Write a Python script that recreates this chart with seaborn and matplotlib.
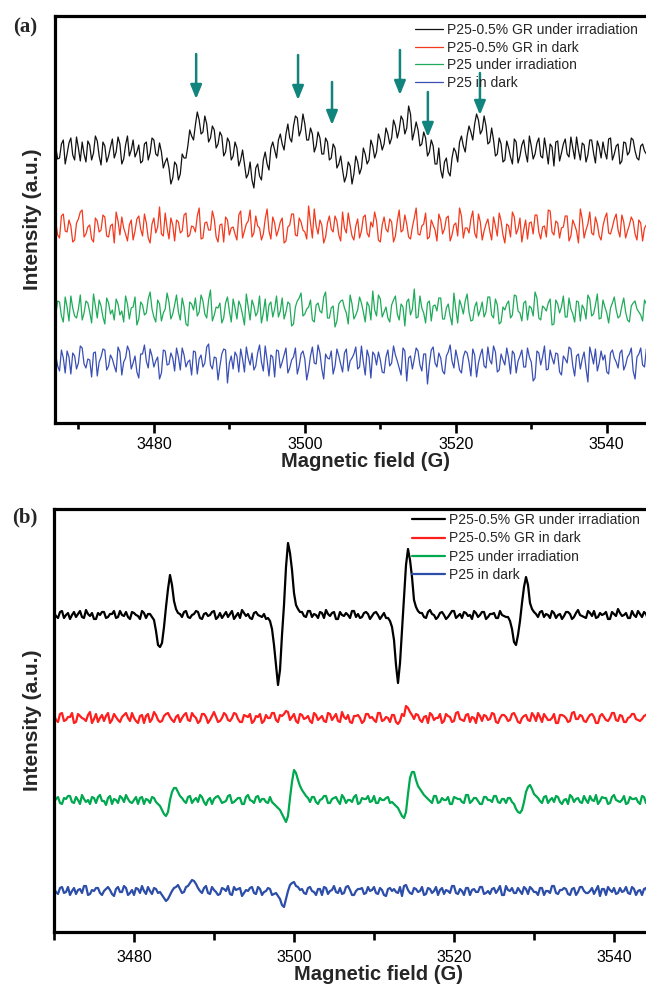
import numpy as np
import pandas as pd
import matplotlib
matplotlib.use("Agg")
import matplotlib.pyplot as plt
import seaborn as sns

# ---------------- data ----------------
series_names = ["P25-0.5% GR under irradiation", "P25-0.5% GR in dark",
                "P25 under irradiation", "P25 in dark"]

# panel (a): readings on a 0.5 G grid starting at 3467.0 G, and the
# in-between readings starting at 3467.25 G (relative intensity, a.u.)
field_start_a, field_step_a, field_mid_a = 3467.0, 0.5, 3467.25
black_a = [3, -8, 10, -4, 12, -10, 2, 8, -12, 5, -3, 9, -15, 4, -6, 11, -2, 6, -9, 14,
           0, -7, 5, -11, 8, -3, 10, -6, -2, -12, -18, -28, -15, -24, -8, 4, 14, 25, 30, 18,
           26, 12, 20, 6, 14, -2, 8, -6, 2, -10, -14, -24, -30, -18, -26, -10, -14, 2, 0, 10,
           6, 16, 12, 24, 32, 20, 26, 10, 16, 4, 12, -4, 8, -8, 2, -14, -20, -26, -16, -24,
           -12, -18, -4, -10, 4, -2, 10, 6, 16, 12, 24, 20, 30, 22, 36, 18, 20, 6, 12, -2,
           4, -14, -20, -12, -22, -8, -2, 8, 4, 14, 18, 26, 30, 20, 24, 8, 10, -4, 6, -10,
           2, -14, 8, -6, 10, -12, 4, -4, 12, -8, 0, 6, -16, 9, -3, 11, -7, 2, 13, -10,
           5, -5, 10, -13, 3, 8, -9, 12, -4, 6, -11, 7, -2, 10, -8, 4, -1, 5, -6]
black_a_mid = [-9, 6, -14, 7, -5, 13, -11, -4, 9, -10, 14, -6, 8, -12, 3, -8, 13, -14, 5, -6,
               10, -2, -13, 6, -10, 12, -4, 7, -18, -8, -34, -12, -30, -4, -8, 20, 10, 38, 16, 34,
               8, 24, 2, 18, -6, 12, -10, 8, -16, 0, -28, -12, -38, -14, -30, -2, -20, 8, -8, 16,
               0, 26, 8, 34, 14, 36, 10, 22, -2, 18, -4, 12, -10, 6, -18, -6, -32, -12, -34, -6,
               -24, 2, -14, 10, -8, 16, 0, 22, 6, 30, 12, 34, 16, 44, 10, 28, 4, 18, -6, 10,
               -14, 2, -28, -8, -26, 2, -12, 14, -2, 24, 10, 36, 16, 34, 6, 22, -6, 12, -12, 9,
               -7, 11, -13, 5, -3, 14, -9, 7, -6, 12, -14, 3, 8, -11, 6, -4, 13, -9, 0, 7,
               -12, 10, -3, 9, -8, -2, 11, -10, 4, -14, 8, -5, 12, -1, -10, 6, -4, 9]
red_a = [6, -10, 14, -4, 2, -12, 9, 18, -6, 3, -14, 7, -2, 11, -9, 4, 16, -7, 0, -13,
         8, -3, 12, -8, 5, -15, 10, 1, -6, 15, -11, 3, 8, -5, 13, -9, 2, -4, 20, -10,
         6, -2, 9, -14, 4, 11, -7, 1, -12, 17, -3, 7, -9, 12, 0, -6, 19, -11, 5, -2,
         10, -13, 3, 14, -8, 6, -4, 22, -10, 2, 8, -15, 5, -1, 12, -7, 16, -5, 3, -12,
         9, -3, 13, -9, 1, 7, -14, 11, -4, 6, -8, 18, -2, 4, -11, 10, -6, 2, 15, -9,
         3, -13, 8, -1, 12, -7, 5, 20, -10, 0, 9, -5, 14, -12, 4, -3, 11, -8, 7, -15,
         2, 16, -6, 10, -2, -11, 6, 13, -4, 1, -9, 17, -7, 5, 0, 12, -13, 8, -3, 19,
         -10, 4, -5, 11, -8, 2, 15, -6, 9, -2, 13, -10, 3, 7, -12, 5, 0]
red_a_mid = [-7, 12, -3, 8, -14, 5, 16, -9, 1, -11, 10, -4, 13, -8, 2, -15, 7, 11, -6, 3,
             -12, 9, -1, 14, -10, 4, -5, 21, -8, 0, 10, -13, 6, -3, 15, -7, 1, 12, -11, 5,
             -2, 17, -9, 3, -14, 8, 0, -6, 13, -10, 4, 18, -5, 2, -12, 9, -3, 11, -8, 6,
             -15, 1, 14, -7, 10, -2, -11, 5, 19, -6, 3, -9, 12, -4, 7, -13, 0, 15, -8, 2,
             -10, 11, -5, 6, 16, -12, 3, -1, 9, -14, 7, -4, 13, -9, 1, 20, -7, 4, -11, 8,
             -2, 14, -6, 10, -13, 3, -8, 12, 0, -5, 17, -10, 6, -3, 9, -12, 2, 15, -7, 4,
             -9, 11, -1, -14, 8, 5, -6, 13, -11, 2, 18, -4, 7, -10, 1, 12, -8, 3, -15, 9,
             -2, 16, -7, 4, -12, 10, -5, 1, 14, -9, 6, -3, 11, -6, 8, -13, 3, 12, -4, 0]
green_a = [-4, 8, -12, 3, 14, -6, 1, -10, 9, -2, 16, -8, 4, -14, 7, 0, 11, -5, -12, 6,
           2, 13, -9, 5, -3, 18, -7, 10, -11, 1, 8, -4, 15, -10, 3, -16, 6, 12, -2, 9,
           -8, 20, -5, 2, -13, 7, -1, 11, -9, 4, -15, 3, 10, -6, 14, -3, -11, 8, 1, -7,
           12, -2, 6, -14, 9, 17, -4, 3, -10, 5, -1, 13, -8, 2, -17, 6, 10, -3, 15, -9,
           0, 7, -12, 4, 19, -6, 11, -2, -8, 5, 14, -10, 3, 8, -5, 21, -7, 2, -13, 9,
           4, -1, 12, -9, 6, -15, 1, 10, -4, 16, -11, 3, -6, 8, -2, 13, -8, 5, -12, 0,
           9, -5, 14, -3, 7, -10, 2, 18, -8, 4, -1, 11, -14, 6, 3, -7, 12, -4, 9, -11,
           1, 15, -6, 5, -9, 10, -3, 2, 13, -8, 4, -2, -12, 7, 1, -5, 10, -3, 6, -9]
green_a_mid = [9, -6, 13, -11, 2, -8, 15, -3, 7, -13, 4, 10, -7, 12, -4, -10, 6, -1, 14, -9,
               3, -15, 8, -5, 11, 1, -12, 6, -3, 17, -9, 5, -2, 12, -14, 8, 0, -6, 15, -4,
               10, -11, 3, 7, -8, 13, -12, 2, 9, -5, 16, -10, 4, -2, -13, 11, 5, -7, 14, -1,
               -9, 8, -16, 3, 12, -6, 1, 10, -12, 7, -3, 18, -8, 4, -11, 9, 2, -14, 6, -5,
               13, -2, 8, -10, 0, 15, -7, 3, -12, 10, -4, 6, -16, 11, 1, -8, 14, -3, 7, -11,
               5, 12, -9, 2, -6, 17, -13, 4, 9, -2, -10, 8, 0, -7, 13, -5, 11, -14, 3, 6,
               -8, 15, -1, -11, 9, 4, -6, 12, -10, 2, 7, -15, 10, -3, 14, -7, 1, -12, 8, 5,
               -9, 11, -4, 16, -8, 3, -13, 7, 0, -6, 12, -10, 4, 9, -2, -11, 6, -5, 13, -3]
blue_a = [5, -11, 2, 9, -14, 4, -3, 12, -8, 0, 7, -16, 3, 10, -6, 1, -12, 8, -2, 14,
          -9, 4, -18, 6, -1, 11, -7, 3, -13, 9, -4, 2, 12, -10, 5, -2, -15, 8, 1, -7,
          13, -5, 3, -20, 6, 10, -3, -9, 4, 11, -12, 2, 7, -6, 15, -11, 0, 5, -17, 9,
          -2, 12, -8, 3, -14, 6, 1, -10, 13, -4, 7, -19, 2, 9, -6, 4, -12, 11, -1, 6,
          -9, 14, -15, 3, 8, -5, 0, -13, 10, -3, 5, -8, 12, -21, 4, 1, 9, -11, 6, -4,
          13, -7, 2, -14, 8, -1, 10, -10, 3, 7, -16, 5, -3, 11, -8, 0, 14, -12, 6, -5,
          2, 9, -13, 4, -7, 12, -2, -18, 7, 3, -10, 10, -4, 6, -15, 1, 13, -6, 4, -9,
          8, -22, 5, 11, -3, 0, -12, 7, 2, -8, 10, -5, 6, -11, 3, 12, -7, 1, -14, 9]
blue_a_mid = [-6, 10, -13, 3, 7, -9, 14, -4, 1, -17, 8, -2, 11, -10, 5, -6, 13, -15, 2, 9,
              -3, -12, 6, 15, -8, 4, -1, -19, 10, -5, 7, -11, 3, 12, -7, 0, 9, -14, 5, -3,
              16, -9, 2, -6, 11, -23, 4, 8, -12, 1, 13, -5, -10, 7, -2, 14, -16, 3, 10, -8,
              5, -13, 0, 12, -6, 9, -20, 4, -3, 15, -9, 6, 1, -14, 11, -4, 7, -11, 2, 13,
              -7, -2, 10, -18, 5, 8, -12, 3, -6, 14, -1, -15, 9, 2, -9, 12, -5, 6, -24, 10,
              -3, 7, -11, 4, 15, -8, 1, -13, 9, -2, 11, -17, 5, -6, 13, -4, 8, -10, 0, 12,
              -14, 6, -1, 10, -7, 3, -21, 9, -5, 14, -9, 2, 7, -12, 4, -3, 11, -16, 6, 1,
              -8, 13, -4, -11, 9, 5, -14, 10, -2, 7, -10, 3, 12, -19, 6, -5, 11, -7, 2, 8]
offsets_a = [273, 195, 113, 63]

# panel (b): 0.5 G grid starting at 3470.0 G, in-between readings from 3470.25 G
field_start_b, field_step_b, field_mid_b = 3470.0, 0.5, 3470.25
black_b = [2, -3, 4, 0, -4, 3, 1, -2, 5, -1, -4, 2, 3, -3, 1, 4, -2, 0, 3, -4, 2, -1, 4, -3, 1,
           -5, -30, -28, 8, 40, 14, 2,
           -2, 4, -3, 1, 3, -4, 2, 0, 4, -2, -3, 3, 1, -4, 2, 5, -1, -3, 2, 0, -2, -4,
           -6, -30, -70, -20, 48, 62, 22, 6,
           3, -2, 4, 1, -3, 2, 5, -1, 3, -4, 0, 2, -3, 4, 1, -2, 3, -4, 2, 0, -1, -3,
           -6, -25, -68, -15, 50, 55, 15, 4,
           2, -3, 5, 0, -2, 3, -4, 1, 4, -1, -3, 2, 0, 4, -2, 3, -4, 1, 2, -3, 0, -2,
           -6, -27, -20, 12, 38, 12, 3,
           -2, 4, 1, -3, 2, 0, -4, 3, 1, -2, 5, -1, -3, 2, 4, -2, 0, 3, -4, 1,
           6, -1, 2, -3, 0, 4, -2, 1, 3, -4, 2, -1, 3, 0]
black_b_mid = [-1, 3, -3, 2, 0, -2, 4, -3, 1, 2, -4, 0, 3, -2, 1, -3, 4, -1, -2, 3, 0, -4, 2, 1,
               -2, -16, -32, -12, 26, 30, 6, 1,
               3, -2, 0, 4, -3, 1, -1, 3, -4, 2, 0, -2, 4, -1, -3, 2, 1, -4, 3, -1, 1,
               -3, -14, -50, -55, 10, 72, 45, 10, 3,
               -1, 4, -2, 0, 3, -3, 1, 2, -4, 3, -1, 0, 4, -2, -3, 2, 1, -1, 3, -4, 2,
               -3, -12, -50, -48, 18, 66, 38, 8, 2,
               -2, 3, 1, -4, 2, 0, -2, 4, -3, 1, 3, -1, -4, 2, 0, 3, -2, 1, -3, 4, -1,
               -2, -14, -30, -6, 28, 30, 6, 1,
               3, -2, 0, 4, -3, 1, -1, 3, -4, 2, 0, -2, 4, -1, -3, 2, 1, -4, 3, -1,
               2, 0, -3, 4, -2, 1, 3, -4, 0, 2, -1, 3, -2]
red_b = [3, -4, 5, -2, 1, -5, 4, 0, -3, 6, -1, -4, 3, 2, -5, 4, -2, 1, 5, -3, 0, -5, 3, 2, -4, 6, -2, -3, 4, 1,
         -4, 3, 0, 5, -3, 2, -5, 4, 1, -2, 6, -4, 0, 3, -3, 5, -1, -4, 2, 4, -3, 1, -5, 3, 0, 5, -4, 2, 7, -2,
         4, -5, 3, 0, -3, 5, -2, 2, -4, 4, 1, -3, 6, -1, -4, 2, 3, -5, 4, 0, -2, 5, -3, 1, -4, 3, -6, 4, 12, 6,
         -1, 3, -4, 2, 5, -2, 0, -5, 4, 1, -3, 6, -2, 3, -4, 0, 5, -3, 2, -1, 4, -5, 3, 1, -2, 5, -4, 0, 3, -3,
         2, 5, -4, 1, -2, 4, -5, 3, 0, -3, 6, -1, 2, -4, 3, 1, -5, 4, -2, 0, 5, -3, 2, -4, 1, 4, -2, -1, 3, -5, 2,
         4, -1, 0]
red_b_mid = [-2, 4, -3, 1, 5, -4, 2, -1, 3, -5, 4, 0, -3, 5, -2, 1, -4, 3, 0, 5, -3, 2, -5, 4, -1, 3, -4, 2, 5, -2,
             1, -4, 3, -2, 5, 0, -3, 4, -5, 2, 1, -3, 5, -2, 0, 4, -4, 3, 1, -5, 2, 4, -3, 0, 5, -2, 3, 4, 6, 1,
             -3, 4, -1, 2, -5, 3, 0, -3, 5, -2, 4, -4, 1, 3, -5, 2, 0, -3, 4, 1, -4, 5, -2, 0, 3, -4, -3, 2, 10, 3,
             4, -2, 1, -5, 3, 0, 4, -3, 2, -4, 5, -1, -3, 4, 1, -5, 2, 3, -2, 5, -4, 0, 3, -3, 4, 1, -5, 2, -2, 5,
             -3, 1, 4, -2, 0, -5, 3, 2, -4, 5, -1, 3, -3, 0, 4, -5, 2, 1, -3, 5, -2, 3, -4, 0, 4, -1, -3, 2, 5, -4,
             1, 3, -2, 0]
green_b = [-2, 3, -4, 1, 4, -3, 0, 5, -2, -4, 2, 3, -1, -5, 4, 1, -3, 2, 5, -2, 0, -4, 3, 1, -3, 2,
           -4, -10, -16, 0, 12, 8, 2,
           -3, 4, 0, -2, 3, -5, 2, 1, 4, -3, -1, 5, -2, 2, -4, 3, 0, -3, 4, 1, -2, 3,
           -4, -8, -14, -22, 2, 30, 20, 10, 4,
           -2, 3, -4, 1, 4, -3, 2, -1, 5, -3, 0, 3, -4, 2, 1, -2, 4, -3, 0, 2, -3,
           -4, -8, -16, -12, 22, 28, 14, 8, 3,
           -1, 4, -3, 2, 0, -4, 3, 1, -2, 5, -3, 2, -1, -4, 3, 0, 4, -2, 1, -3, 2,
           -4, -12, -10, 8, 15, 6, 2,
           -3, 4, 0, -2, 3, -4, 1, 5, -2, 2, -3, 0, 4, -1, -4, 3, 2, -3, 5, -1, 0, -4, 3, 1, -2, 4, -3, 2, 0,
           -2, 3, 1]
green_b_mid = [1, -3, 2, 4, -2, 3, -4, 1, 0, 3, -3, 5, -1, 2, -4, 0, 4, -2, 1, -3, 3, 2, -4, 0, 3,
               -2, -6, -14, -12, 8, 12, 4,
               -1, 3, -3, 2, 5, -2, 0, -4, 3, 1, -2, 4, -3, 0, 2, -4, 5, -1, 3, -2, 1, -3,
               -2, -6, -10, -18, -16, 18, 27, 14, 7, 2,
               3, -2, 0, 4, -3, 1, 3, -4, 2, 0, -2, 5, -3, 1, 4, -1, -3, 2, 0, 3,
               -2, -6, -12, -18, 6, 28, 20, 11, 5,
               1, -3, 4, -2, 0, 3, -4, 2, 1, -3, 5, -1, 2, -4, 3, 0, -2, 4, -3, 1, 2,
               -2, -9, -13, -2, 13, 11, 4,
               -1, 3, -3, 2, 4, -2, 0, -4, 3, 1, -2, 4, -3, 0, 5, -1, 2, -4, 3, 0,
               -2, 4, -3, 1, 2, -4, 3, 0, -1, 4, -2, 1, 3]
blue_b = [2, -3, 4, -1, -4, 3, 1, -2, 5, -3, 0, 3, -4, 2, 1, -5, 4, -1, 3, -2, -4, 2, 5, -3, 0, 3, -2, -4,
          -10, -4, 3, 6,
          -2, 4, 8, 10, 3, -2, 5, -3, 1,
          -4, 3, 0, -3, 4, 2, -5, 1, 3, -2, 4, -4, 0, 2, -3, -5,
          -14, -8, 6, 9, 4, 2,
          -3, 4, -1, 2, -4, 3, 0, 5, -2, -3, 4, 1, -4, 2, 3, -2, 0, 4, -3, 1, -5, 3, 2, -2, -5,
          6, -2, 3, -1,
          4, -3, 2, 0, -4, 3, 1, -2, 5, -3, 0, 3, -4, 2, -1, 4, -2, -3, 3, 1, -4, 5, 0, -2, 3, -3, 2, 4, -1, -4,
          3, 0, -2, 5, -3, 1, 2, -4, 3, -1, 4, -2, 0, -3, 5, 2, -4, 1, 3, -2, -1, 4, -3, 2, 0, -4, 3, 1, -2,
          2, -3, 1]
blue_b_mid = [-1, 3, -2, 4, 0, -3, 2, 5, -4, 1, 3, -2, 0, 4, -3, 2, -1, 5, -4, 1, 3, -2, 0, 4, -3, 2, -1,
              -7, -8, 0, 4, 2, -1, 5, 11, 7,
              0, 3, -2, 4, -1, -3, 2, 5, -4, 1, 3, -2, 0, 4, -3, 2, -1, 3, -4, -2,
              -8, -16, 0, 8,
              5, 1, -2, 3, 0, -4, 2, 4, -3, 1, -1, 3, -2, 5, -4, 0, 2, -3, 4, 1,
              -2, 3, -4, 2, 0, -1, 4, 5, 1, -3, 2, 0, -4, 3, -2, 4, 1, -3, 0, 5,
              -2, 2, -4, 3, 1, -1, 4, -3, 0, 2, -2, 5, -4, 1, 3, -2, 0, 4, -3, 2,
              -1, 3, -4, 0, 5, -2, 1, 3, -3, 2, -4, 4, 0, -2, 3, 1, -5, 2, 4, -1,
              -3, 3, 0, -2, 4, -4, 1, 2, -3, 5, -1, 0, 3, -2]
offsets_b = [317, 214, 132, 41]

# arrows in panel (a): field position (G), tail and tip heights (a.u.)
arrow_fields = [3485.6, 3499.1, 3503.6, 3512.6, 3516.3, 3523.2]
arrow_tails = [369, 368, 341, 373, 331, 350]
arrow_tips = [324, 323, 298, 328, 286, 308]

xticks_major = [3480, 3500, 3520, 3540]
xticks_minor = [3470, 3490, 3510, 3530]

# ---------------- style ----------------
sns.set_style("white")
plt.rcParams["font.family"] = ["Liberation Sans", "DejaVu Sans"]

colors_a = ["#111111", "#f23a1e", "#1fab5a", "#3a4fb4"]
colors_b = ["#000000", "#ff1e1e", "#00a84f", "#2c4ea8"]
teal = "#11857d"

W, H = 646, 984
fig = plt.figure(figsize=(W / 100, H / 100), dpi=100)


def px_axes(left, top, right, bottom):
    return fig.add_axes([left / W, 1 - bottom / H, (right - left) / W, (bottom - top) / H])


ax_a = px_axes(55, 16, 646, 423)
ax_b = px_axes(54, 509, 646, 932)


def draw(ax, start, mid, step, series, offsets, colors, lw):
    for name, (vals, mvals), off, c in zip(series_names, series, offsets, colors):
        vals = np.asarray(vals, dtype=float)
        mvals = np.asarray(mvals, dtype=float)
        df = pd.concat([
            pd.DataFrame({"field": start + step * np.arange(len(vals)), "intensity": vals + off}),
            pd.DataFrame({"field": mid + step * np.arange(len(mvals)), "intensity": mvals + off}),
        ]).sort_values("field")
        sns.lineplot(data=df, x="field", y="intensity", ax=ax, color=c,
                     linewidth=lw, label=name, estimator=None, sort=True)


draw(ax_a, field_start_a, field_mid_a, field_step_a,
     [(black_a, black_a_mid), (red_a, red_a_mid), (green_a, green_a_mid), (blue_a, blue_a_mid)],
     offsets_a, colors_a, 0.9)
draw(ax_b, field_start_b, field_mid_b, field_step_b,
     [(black_b, black_b_mid), (red_b, red_b_mid), (green_b, green_b_mid), (blue_b, blue_b_mid)],
     offsets_b, colors_b, 1.6)

for fx, ft, fh in zip(arrow_fields, arrow_tails, arrow_tips):
    ax_a.annotate("", xy=(fx, fh), xytext=(fx, ft),
                  arrowprops=dict(arrowstyle="-|>,head_length=0.42,head_width=0.17",
                                  color=teal, lw=1.8, mutation_scale=20,
                                  shrinkA=0, shrinkB=0), zorder=5)

ax_a.set_xlim(3466.9, 3545.2)
ax_a.set_ylim(0, 407)
ax_b.set_xlim(3470.0, 3544.0)
ax_b.set_ylim(0, 423)

for ax, tl, ml, pad in [(ax_a, 7.0, 4.1, 3.2), (ax_b, 7.2, 5.5, 5.8)]:
    ax.set_xticks(xticks_major)
    ax.set_xticks(xticks_minor, minor=True)
    ax.set_xticklabels([str(t) for t in xticks_major])
    ax.set_yticks([])
    ax.tick_params(axis="x", which="major", direction="out", length=tl, width=1.9,
                   labelsize=11.5, pad=pad, color="black", labelcolor="black",
                   bottom=True, top=False)
    ax.tick_params(axis="x", which="minor", direction="out", length=ml, width=1.9,
                   bottom=True, top=False, color="black")
    for s in ["top", "left", "bottom"]:
        ax.spines[s].set_visible(True)
        ax.spines[s].set_linewidth(2.3)
        ax.spines[s].set_color("black")
    ax.spines["right"].set_visible(False)
    ax.set_xlabel("Magnetic field (G)", fontsize=14.5, fontweight="bold")
    ax.set_ylabel("Intensity (a.u.)", fontsize=15, fontweight="bold")
    ax.grid(False)

ax_a.xaxis.set_label_coords(0.526, -0.071)
ax_a.yaxis.set_label_coords(-0.022, 0.5)
ax_b.xaxis.set_label_coords(0.548, -0.078)
ax_b.yaxis.set_label_coords(-0.020, 0.5)

ax_a.legend(loc="upper left", bbox_to_anchor=(415 / W, 1 - 23 / H),
            bbox_transform=fig.transFigure, borderpad=0, borderaxespad=0,
            handlelength=2.0, handletextpad=0.3, labelspacing=0.26,
            fontsize=10, frameon=False)
ax_b.legend(loc="upper left", bbox_to_anchor=(412 / W, 1 - 513 / H),
            bbox_transform=fig.transFigure, borderpad=0, borderaxespad=0,
            handlelength=2.37, handletextpad=0.3, labelspacing=0.315,
            fontsize=10, frameon=False)

fig.text(25 / W, 1 - 27 / H, "(a)", ha="center", va="center", fontsize=15,
         fontweight="bold", family=["Liberation Serif", "DejaVu Serif"])
fig.text(25 / W, 1 - 517 / H, "(b)", ha="center", va="center", fontsize=15,
         fontweight="bold", family=["Liberation Serif", "DejaVu Serif"])

fig.savefig("out.png", dpi=100)
